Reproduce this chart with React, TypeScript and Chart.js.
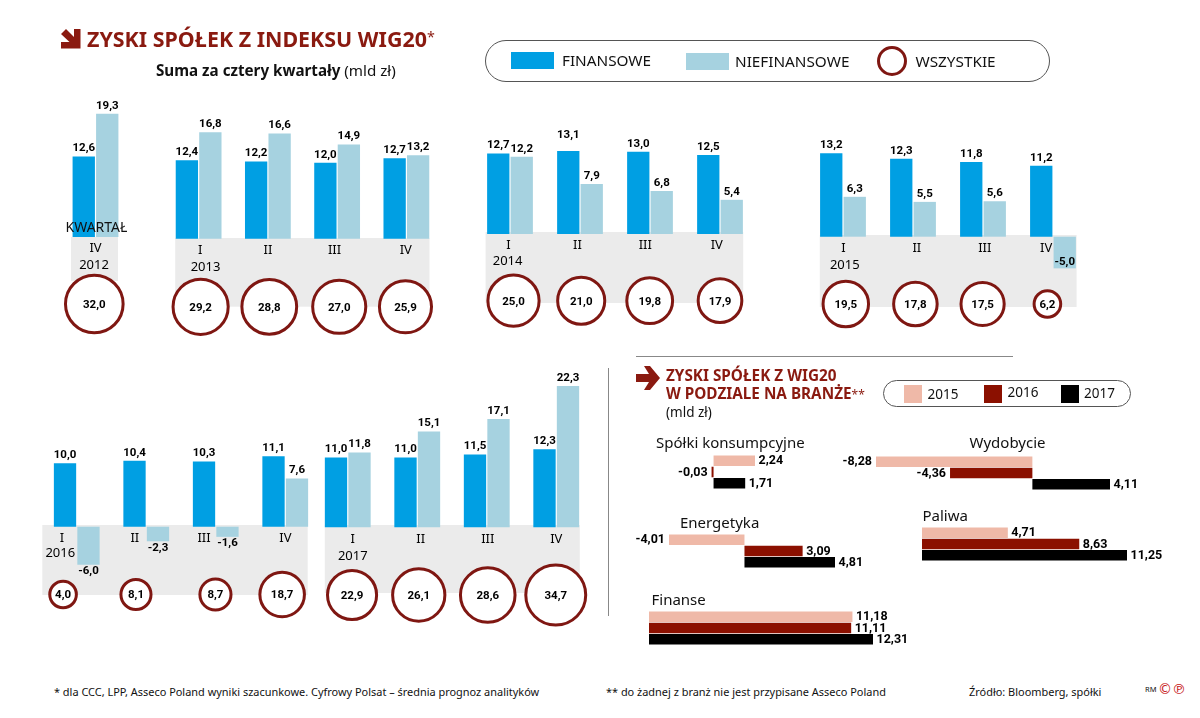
import React, { useEffect, useRef } from "react";
import { Chart, registerables } from "chart.js";

Chart.register(...registerables);

const quarters4 = ["I", "II", "III", "IV"];
const quarters1 = ["IV"];

const fin2012 = [12.6];
const non2012 = [19.3];
const all2012 = [32.0];
const fin2013 = [12.4, 12.2, 12.0, 12.7];
const non2013 = [16.8, 16.6, 14.9, 13.2];
const all2013 = [29.2, 28.8, 27.0, 25.9];
const fin2014 = [12.7, 13.1, 13.0, 12.5];
const non2014 = [12.2, 7.9, 6.8, 5.4];
const all2014 = [25.0, 21.0, 19.8, 17.9];
const fin2015 = [13.2, 12.3, 11.8, 11.2];
const non2015 = [6.3, 5.5, 5.6, -5.0];
const all2015 = [19.5, 17.8, 17.5, 6.2];
const fin2016 = [10.0, 10.4, 10.3, 11.1];
const non2016 = [-6.0, -2.3, -1.6, 7.6];
const all2016 = [4.0, 8.1, 8.7, 18.7];
const fin2017 = [11.0, 11.0, 11.5, 12.3];
const non2017 = [11.8, 15.1, 17.1, 22.3];
const all2017 = [22.9, 26.1, 28.6, 34.7];

const sectorYears = ["2015", "2016", "2017"];
const consumer = [2.24, -0.03, 1.71];
const mining = [-8.28, -4.36, 4.11];
const energy = [-4.01, 3.09, 4.81];
const fuels = [4.71, 8.63, 11.25];
const finance = [11.18, 11.11, 12.31];

const RED = "#8a1a10";
const RING = "#7f1712";
const BLUE = "#009fe3";
const LIGHT = "#a6d2e0";
const GREY = "#ebebeb";
const YEAR_COLORS = ["#efb9a8", "#8b1000", "#000000"];
const FONT = '"Noto Sans", sans-serif';
const LABEL_FONT = "bold 11.5px Roboto, sans-serif";
const PAD = 26;

const comma = (v: number, d: number) => v.toFixed(d).replace(".", ",");
// ring size follows the total, small ones do not go under a floor
const ringRadius = (v: number) => Math.max(13.3, 1.1 + 4.9 * Math.sqrt(v));

type Panel = {
  year: string;
  labels: string[];
  fin: number[];
  non: number[];
  all: number[];
  left: number;
  step: number;
  base: number;
  top: number;
  bottom: number;
  ppu: number;
  ringY: number;
  ringNudge: number[];
  tickNudge: number[];
  tickY: number;
  yearX: number;
  yearY: number;
  band: number[];
  labelShift?: Record<string, number[]>;
};

const panels: Panel[] = [
  { year: "2012", labels: quarters1, fin: fin2012, non: non2012, all: all2012, left: 61, step: 69, base: 237, top: 113, bottom: 335, ppu: 6.38, ringY: 304, ringNudge: [-1.2], tickNudge: [0], tickY: 248, yearX: 94, yearY: 265, band: [71, 237, 118, 281] },
  { year: "2013", labels: quarters4, fin: fin2013, non: non2013, all: all2013, left: 163.5, step: 69.3, base: 238.7, top: 130, bottom: 336, ppu: 6.33, ringY: 306.8, ringNudge: [2, 1.4, 2.1, -0.9], tickNudge: [1.7, 0, -2.6, -0.6], tickY: 250.5, yearX: 205, yearY: 267, band: [174.7, 238, 429, 306.7] },
  { year: "2014", labels: quarters4, fin: fin2014, non: non2014, all: all2014, left: 475.4, step: 70.1, base: 234, top: 150, bottom: 330, ppu: 6.33, ringY: 300.7, ringNudge: [3.5, 1.2, -0.3, 0], tickNudge: [-1.5, -2.6, -4.7, -3.2], tickY: 245, yearX: 508, yearY: 261.5, band: [486, 232, 743.6, 303], labelShift: { "0:1": [0, -8] } },
  { year: "2015", labels: quarters4, fin: fin2015, non: non2015, all: all2015, left: 808.2, step: 70, base: 236.7, top: 153, bottom: 335, ppu: 6.33, ringY: 304, ringNudge: [2.8, 2.4, -0.4, -5.6], tickNudge: [0.4, 3.8, 1.8, -6.8], tickY: 248.5, yearX: 845, yearY: 265.5, band: [820, 235, 1076.8, 307], labelShift: { "1:3": [0, -13] } },
  { year: "2016", labels: quarters4, fin: fin2016, non: non2016, all: all2016, left: 41.7, step: 69.6, base: 526.7, top: 460, bottom: 630, ppu: 6.34, ringY: 594.5, ringNudge: [-13.7, -10.3, -0.3, -3.1], tickNudge: [-14.7, -11.4, -11.7, 0.2], tickY: 538.5, yearX: 60, yearY: 553.5, band: [42, 525, 307.4, 595] },
  { year: "2017", labels: quarters4, fin: fin2017, non: non2017, all: all2017, left: 313.2, step: 69.5, base: 527.3, top: 386, bottom: 632, ppu: 6.34, ringY: 595, ringNudge: [4.3, 1.5, 1, -0.5], tickNudge: [5, 3.5, 1, 0], tickY: 539, yearX: 353, yearY: 556, band: [325, 525, 580, 593] },
];

type Sector = { values: number[]; zero: number; ppu: number; top: number; row: number };

const sectors: Sector[] = [
  { values: consumer, zero: 713.8, ppu: 18.9, top: 455.4, row: 11.5 },
  { values: mining, zero: 1032, ppu: 18.9, top: 456, row: 11.5 },
  { values: energy, zero: 744.8, ppu: 18.9, top: 534.3, row: 11.6 },
  { values: fuels, zero: 921.5, ppu: 18.3, top: 527, row: 11.4 },
  { values: finance, zero: 648.6, ppu: 18.25, top: 611, row: 11.5 },
];

function centerText(ctx: CanvasRenderingContext2D, text: string, x: number, y: number, font: string) {
  ctx.font = font;
  ctx.fillStyle = "#000";
  ctx.textAlign = "center";
  ctx.textBaseline = "middle";
  ctx.fillText(text, x, y);
}

function QuarterPanel({ p }: { p: Panel }) {
  const barRef = useRef<HTMLCanvasElement>(null);
  const ringRef = useRef<HTMLCanvasElement>(null);
  const n = p.labels.length;
  const plotW = p.step * n;
  const canvasLeft = p.left - PAD;
  const canvasTop = p.top - PAD;
  const yMin = (p.base - p.bottom) / p.ppu;
  const yMax = (p.base - p.top) / p.ppu;

  useEffect(() => {
    const barCtx = barRef.current?.getContext("2d");
    const ringCtx = ringRef.current?.getContext("2d");
    if (!barCtx || !ringCtx) return;

    const bars = new Chart(barCtx, {
      type: "bar",
      data: {
        labels: p.labels,
        datasets: [
          { label: "Finansowe", data: p.fin, backgroundColor: BLUE, categoryPercentage: 47 / p.step, barPercentage: 0.95, clip: false },
          { label: "Niefinansowe", data: p.non, backgroundColor: LIGHT, categoryPercentage: 47 / p.step, barPercentage: 0.95, clip: false },
        ],
      },
      options: {
        responsive: false,
        animation: false,
        events: [],
        layout: { padding: PAD, autoPadding: false },
        plugins: { legend: { display: false }, tooltip: { enabled: false } },
        scales: {
          x: { display: false },
          y: { display: false, min: yMin, max: yMax },
        },
      } as any,
      plugins: [
        {
          id: "panelMarks",
          beforeDatasetsDraw(c: Chart) {
            const [x0, y0, x1, y1] = p.band;
            c.ctx.fillStyle = GREY;
            c.ctx.fillRect(x0 - canvasLeft, y0 - canvasTop, x1 - x0, y1 - y0);
          },
          afterDatasetsDraw(c: Chart) {
            const g = c.ctx;
            [0, 1].forEach((ds) => {
              c.getDatasetMeta(ds).data.forEach((bar: any, i: number) => {
                const v = (ds === 0 ? p.fin : p.non)[i];
                const shift = p.labelShift?.[`${ds}:${i}`] ?? [0, 0];
                const y = v >= 0 ? bar.y - 8 : bar.y + 6.5;
                centerText(g, comma(v, 1), bar.x + shift[0], y + shift[1], LABEL_FONT);
              });
            });
            p.labels.forEach((q, i) => {
              const tx = c.scales.x.getPixelForValue(i) + p.tickNudge[i];
              centerText(g, q, tx, p.tickY - canvasTop, `13px ${FONT}`);
            });
            centerText(g, p.year, p.yearX - canvasLeft, p.yearY - canvasTop, `13px ${FONT}`);
          },
        },
      ],
    });

    const rings = new Chart(ringCtx, {
      type: "bubble",
      data: {
        datasets: [
          {
            label: "Wszystkie",
            data: p.all.map((v, i) => ({ x: i + p.ringNudge[i] / p.step, y: (p.base - p.ringY) / p.ppu, r: ringRadius(v) })),
            backgroundColor: "#fff",
            borderColor: RING,
            borderWidth: 3,
            clip: false,
          },
        ],
      },
      options: {
        responsive: false,
        animation: false,
        events: [],
        // bubbles would otherwise push the plot area in by their radius
        layout: { padding: PAD, autoPadding: false },
        plugins: { legend: { display: false }, tooltip: { enabled: false } },
        scales: {
          x: { display: false, min: -0.5, max: n - 0.5 },
          y: { display: false, min: yMin, max: yMax },
        },
      } as any,
      plugins: [
        {
          id: "ringLabels",
          afterDatasetsDraw(c: Chart) {
            c.getDatasetMeta(0).data.forEach((ring: any, i: number) => {
              centerText(c.ctx, comma(p.all[i], 1), ring.x, ring.y + 1, LABEL_FONT);
            });
          },
        },
      ],
    });

    return () => {
      bars.destroy();
      rings.destroy();
    };
  }, []);

  const style = { position: "absolute", left: canvasLeft, top: canvasTop } as React.CSSProperties;
  const w = plotW + PAD * 2;
  const h = p.bottom - p.top + PAD * 2;
  return (
    <>
      <canvas ref={barRef} width={w} height={h} style={style} />
      <canvas ref={ringRef} width={w} height={h} style={style} />
    </>
  );
}

function SectorPanel({ s }: { s: Sector }) {
  const ref = useRef<HTMLCanvasElement>(null);
  const min = Math.min(0, ...s.values);
  const max = Math.max(0, ...s.values);
  const hPad = 44;
  const plotW = (max - min) * s.ppu;
  const plotH = s.row * 3;
  const left = s.zero + min * s.ppu - hPad;

  useEffect(() => {
    const ctx = ref.current?.getContext("2d");
    if (!ctx) return;

    const chart = new Chart(ctx, {
      type: "bar",
      data: {
        labels: sectorYears,
        datasets: [
          { data: s.values, backgroundColor: YEAR_COLORS, categoryPercentage: 1, barPercentage: 0.93, minBarLength: 2, clip: false },
        ],
      } as any,
      options: {
        indexAxis: "y",
        responsive: false,
        animation: false,
        events: [],
        layout: { padding: { left: hPad, right: hPad, top: 6, bottom: 6 } },
        plugins: { legend: { display: false }, tooltip: { enabled: false } },
        scales: {
          x: { display: false, min, max },
          y: { display: false },
        },
      } as any,
      plugins: [
        {
          id: "sectorLabels",
          afterDatasetsDraw(c: Chart) {
            const g = c.ctx;
            c.getDatasetMeta(0).data.forEach((bar: any, i: number) => {
              const v = s.values[i];
              g.font = "bold 12.5px Roboto, sans-serif";
              g.fillStyle = "#000";
              g.textBaseline = "middle";
              g.textAlign = v < 0 ? "right" : "left";
              g.fillText(comma(v, 2), bar.x + (v < 0 ? -4 : 3.5), bar.y + 0.5);
            });
          },
        },
      ],
    });

    return () => chart.destroy();
  }, []);

  return (
    <canvas
      ref={ref}
      width={plotW + hPad * 2}
      height={plotH + 12}
      style={{ position: "absolute", left, top: s.top - 6 }}
    />
  );
}

function T({ x, y, size, weight, color, font, sx, children }: any) {
  return (
    <div
      style={{
        position: "absolute",
        left: x,
        top: y,
        fontFamily: font ?? FONT,
        fontSize: size,
        fontWeight: weight ?? 400,
        color: color ?? "#111",
        lineHeight: 1,
        whiteSpace: "nowrap",
        transformOrigin: "left center",
        transform: `translateY(-50%) scaleX(${sx ?? 1})`,
      }}
    >
      {children}
    </div>
  );
}

function Box({ x, y, w, h, style }: any) {
  return <div style={{ position: "absolute", left: x, top: y, width: w, height: h, boxSizing: "border-box", ...style }} />;
}

export default function App() {
  return (
    <div style={{ position: "absolute", left: 0, top: 0, width: 1200, height: 718, background: "#fff", overflow: "hidden" }}>
      {panels.map((p) => (
        <QuarterPanel key={p.year} p={p} />
      ))}
      {sectors.map((s, i) => (
        <SectorPanel key={i} s={s} />
      ))}

      <svg width={22} height={22} style={{ position: "absolute", left: 59.5, top: 28 }}>
        <polygon points="1,6 6,1 14,9 14,1 20.5,1 20.5,20.5 1,20.5 1,14 9.5,14" fill={RED} />
      </svg>
      <T x={87} y={39} size={21} sx={1.02} weight={700} color={RED}>
        ZYSKI SPÓŁEK Z INDEKSU WIG20<span style={{ fontWeight: 400, fontSize: 14, verticalAlign: 5 }}>*</span>
      </T>
      <T x={156} y={71} size={15.2} weight={700}>
        Suma za cztery kwartały <span style={{ fontWeight: 400 }}>(mld zł)</span>
      </T>

      <Box x={484.5} y={39.5} w={565} h={42} style={{ border: "1px solid #555", borderRadius: 21 }} />
      <Box x={511} y={52} w={43} h={17} style={{ background: BLUE }} />
      <T x={562} y={60.5} size={15.3}>FINANSOWE</T>
      <Box x={685.5} y={53} w={43} h={17} style={{ background: LIGHT }} />
      <T x={735} y={62} size={15.3}>NIEFINANSOWE</T>
      <Box x={877} y={46} w={30} h={30} style={{ border: `3px solid ${RING}`, borderRadius: "50%" }} />
      <T x={915.5} y={62} size={15.3}>WSZYSTKIE</T>

      <T x={65.5} y={226.5} size={14}>KWARTAŁ</T>

      <Box x={636} y={356} w={377} h={1} style={{ background: "#888" }} />
      <Box x={608} y={368} w={1} h={248} style={{ background: "#888" }} />

      <svg width={26} height={26} style={{ position: "absolute", left: 635, top: 365 }}>
        <polygon points="1,9 14,9 9,1 15,1 25,13 15,25 9,25 14,17 1,17" fill={RED} />
      </svg>
      <T x={666} y={376} size={15.3} weight={700} color={RED}>ZYSKI SPÓŁEK Z WIG20</T>
      <T x={666} y={394} size={15.3} weight={700} color={RED}>
        W PODZIALE NA BRANŻE<span style={{ fontWeight: 400, fontSize: 12 }}>**</span>
      </T>
      <T x={666} y={412.5} size={13.5}>(mld zł)</T>

      <Box x={883} y={379.5} w={248} h={27.5} style={{ border: "1px solid #555", borderRadius: 14 }} />
      <Box x={904} y={385} w={17.5} h={17.5} style={{ background: YEAR_COLORS[0] }} />
      <T x={927.5} y={394.5} size={13.5}>2015</T>
      <Box x={984} y={385} w={17.5} h={17.5} style={{ background: YEAR_COLORS[1] }} />
      <T x={1007.5} y={392.5} size={13.5}>2016</T>
      <Box x={1061} y={385} w={17.5} h={17.5} style={{ background: YEAR_COLORS[2] }} />
      <T x={1084} y={394} size={13.5}>2017</T>

      <T x={656} y={441.5} size={15}>Spółki konsumpcyjne</T>
      <T x={969.5} y={442} size={15}>Wydobycie</T>
      <T x={680} y={522} size={15}>Energetyka</T>
      <T x={922.5} y={515} size={15}>Paliwa</T>
      <T x={651.5} y={599} size={15}>Finanse</T>

      <T x={54} y={691.5} size={10.95}>* dla CCC, LPP, Asseco Poland wyniki szacunkowe. Cyfrowy Polsat – średnia prognoz analityków</T>
      <T x={606} y={691.5} size={10.95}>** do żadnej z branż nie jest przypisane Asseco Poland</T>
      <T x={969} y={691.5} size={10.95}>Źródło: Bloomberg, spółki</T>
      <T x={1145} y={690} size={7.5}>RM</T>
      <T x={1158} y={689} size={14} color="#c8201a" font='"DejaVu Sans", sans-serif'>©℗</T>
    </div>
  );
}
